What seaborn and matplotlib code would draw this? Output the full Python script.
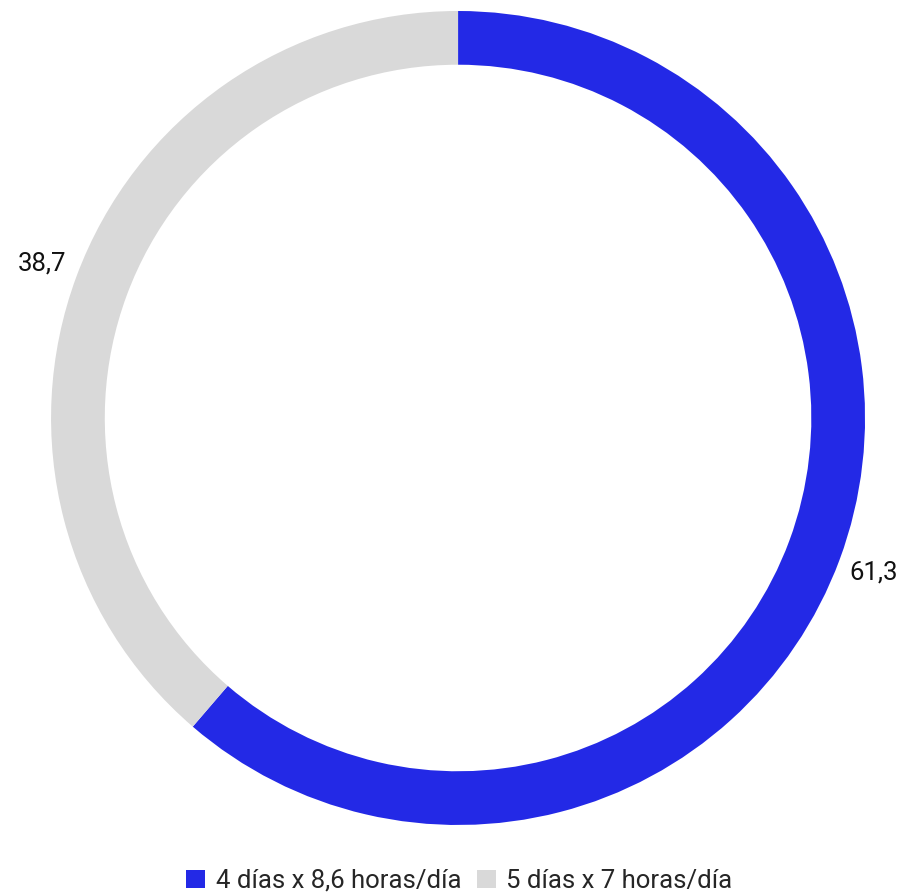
import matplotlib
matplotlib.use("Agg")
import matplotlib.pyplot as plt
import seaborn as sns

# datos
labels = ["4 días x 8,6 horas/día", "5 días x 7 horas/día"]
values = [61.3, 38.7]
colors = ["#2329E6", "#D9D9D9"]

sns.set_theme(style="white")
plt.rcParams['font.family'] = ['Roboto', 'DejaVu Sans']

fig = plt.figure(figsize=(8.97, 8.94), dpi=100)
ax = fig.add_axes([0.0569, 0.0772, 0.9075, 0.9105])

wedges, texts = ax.pie(values, colors=colors, startangle=90, counterclock=False,
                       labels=[f"{v:.1f}".replace(".", ",") for v in values],
                       labeldistance=1.09,
                       wedgeprops=dict(width=0.132, linewidth=0),
                       textprops=dict(fontsize=18.5, color="#111111"))
for t in texts:
    t.set_horizontalalignment("center")
    t.set_verticalalignment("center")
ax.set_xlim(-1, 1)
ax.set_ylim(-1, 1)
ax.set_aspect("equal")

fig.legend(wedges, labels, loc="lower center", ncol=2, frameon=False,
           fontsize=18.5, handlelength=0.75, handleheight=0.75,
           handletextpad=0.4, columnspacing=0.6, borderpad=0.2,
           bbox_to_anchor=(0.512, -0.019))

fig.savefig("out.png", dpi=100, facecolor="white")
